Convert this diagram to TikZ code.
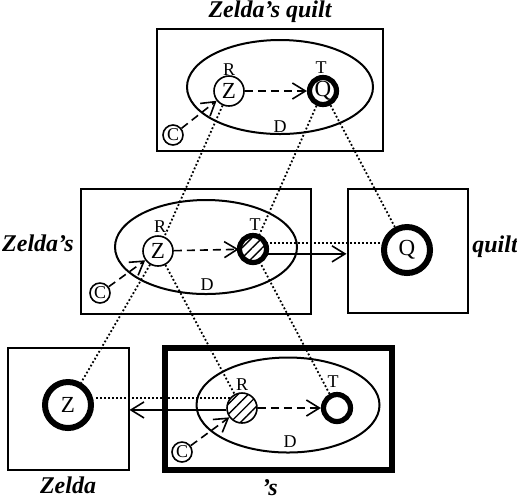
\documentclass[tikz,border=0pt]{standalone}
\usepackage{fontspec}
\setmainfont{Liberation Serif}
\usetikzlibrary{shapes.geometric,arrows.meta,patterns.meta}

\tikzset{
  frame/.style={draw, rectangle, line width=1pt, inner sep=0pt},
  region/.style={draw, ellipse, line width=1pt, inner sep=0pt},
  ref/.style={draw, circle, line width=0.8pt, minimum size=15pt, inner sep=0pt, font=\fontsize{11.5}{12}\selectfont},
  head/.style={draw, circle, line width=2.6pt, minimum size=13.5pt, inner sep=0pt, font=\fontsize{11.5}{12}\selectfont},
  bigref/.style={draw, circle, line width=3pt, minimum size=23pt, inner sep=0pt, font=\fontsize{11.5}{12}\selectfont},
  hatch/.style={pattern={Lines[angle=45,distance=3.6pt,line width=0.7pt]}},
  ctx/.style={draw, circle, line width=0.8pt, minimum size=10pt, inner sep=0pt, font=\small},
  tag/.style={font=\small, inner sep=0pt},
  lbl/.style={font=\large\bfseries\itshape, inner sep=0pt},
  link/.style={dash pattern=on 0.9pt off 1.1pt, line width=0.9pt},
  dep/.style={dash pattern=on 4pt off 2.5pt, line width=0.8pt, -{Straight Barb[length=6.5pt,width=8pt]}},
  proj/.style={line width=0.8pt, -{Straight Barb[length=6.5pt,width=8pt]}},
}

\begin{document}
\begin{tikzpicture}[x=0.5pt, y=-0.5pt]
  \useasboundingbox (0,0) rectangle (517,500);

  % Zelda's quilt
  \node[frame, minimum width=113pt, minimum height=61pt] (topbox) at (270,89.5) {};
  \node[region, minimum width=93pt, minimum height=47pt] (topell) at (280,87) {};
  \node[ref] (topZ) at (229,91) {Z};
  \node[head] (topQ) at (323,91) {Q};
  \node[ctx] (topC) at (173,135) {C};
  \node[tag] at (229,70) {R};
  \node[tag] at (321,68) {T};
  \node[tag] at (280,127) {D};
  \node[lbl] at (270,12) {Zelda's quilt};

  % Zelda's
  \node[frame, minimum width=115pt, minimum height=62.5pt] (midbox) at (196,251.5) {};
  \node[region, minimum width=91pt, minimum height=47pt] (midell) at (206,247) {};
  \node[ref] (midZ) at (158,251) {Z};
  \node[head, hatch] (midT) at (253,249) {};
  \node[ctx] (midC) at (100,293) {C};
  \node[tag] at (160,227) {R};
  \node[tag] at (255,225) {T};
  \node[tag] at (207,285) {D};
  \node[lbl] at (38,243) {Zelda's};

  % quilt
  \node[frame, minimum width=60pt, minimum height=62pt] (qbox) at (407.5,250.5) {};
  \node[bigref] (qQ) at (407,250) {Q};
  \node[lbl] at (495,247) {quilt};

  % Zelda
  \node[frame, minimum width=60.5pt, minimum height=61pt] (zbox) at (68,408.5) {};
  \node[bigref] (zZ) at (68,405) {Z};
  \node[lbl] at (68,485) {Zelda};

  % 's
  \node[frame, line width=2.8pt, minimum width=113.5pt, minimum height=61pt] (sbox) at (278.5,409) {};
  \node[region, minimum width=91.5pt, minimum height=47.5pt] (sell) at (288,405) {};
  \node[ref, hatch] (sR) at (242,408) {};
  \node[head] (sT) at (337,408) {};
  \node[ctx] (sC) at (182,452) {C};
  \node[tag] at (242,385) {R};
  \node[tag] at (333,382) {T};
  \node[tag] at (290,442) {D};
  \node[lbl] at (270,488) {'s};

  % dependencies
  \draw[dep] (topC) -- (topZ);
  \draw[dep] (topZ) -- (topQ);
  \draw[dep] (midC) -- (midZ);
  \draw[dep] (midZ) -- (midT);
  \draw[dep] (sC) -- (sR);
  \draw[dep] (sR) -- (sT);

  % correspondences
  \draw[link] (topZ) -- (midZ);
  \draw[link] (topQ) -- (midT);
  \draw[link] (topQ) -- (qQ);
  \draw[link] (midZ) -- (zZ);
  \draw[link] (midZ) -- (sR);
  \draw[link] (midT) -- (sT);
  \draw[link] (midT.24) -- (midT.24 -| qQ.west);
  \draw[link] (sR.141) -- (sR.141 -| zZ.east);

  % projections
  \draw[proj] (midT.-20) -- (midT.-20 -| qbox.west);
  \draw[proj] (sR.187) -- (sR.187 -| zbox.east);
\end{tikzpicture}
\end{document}
